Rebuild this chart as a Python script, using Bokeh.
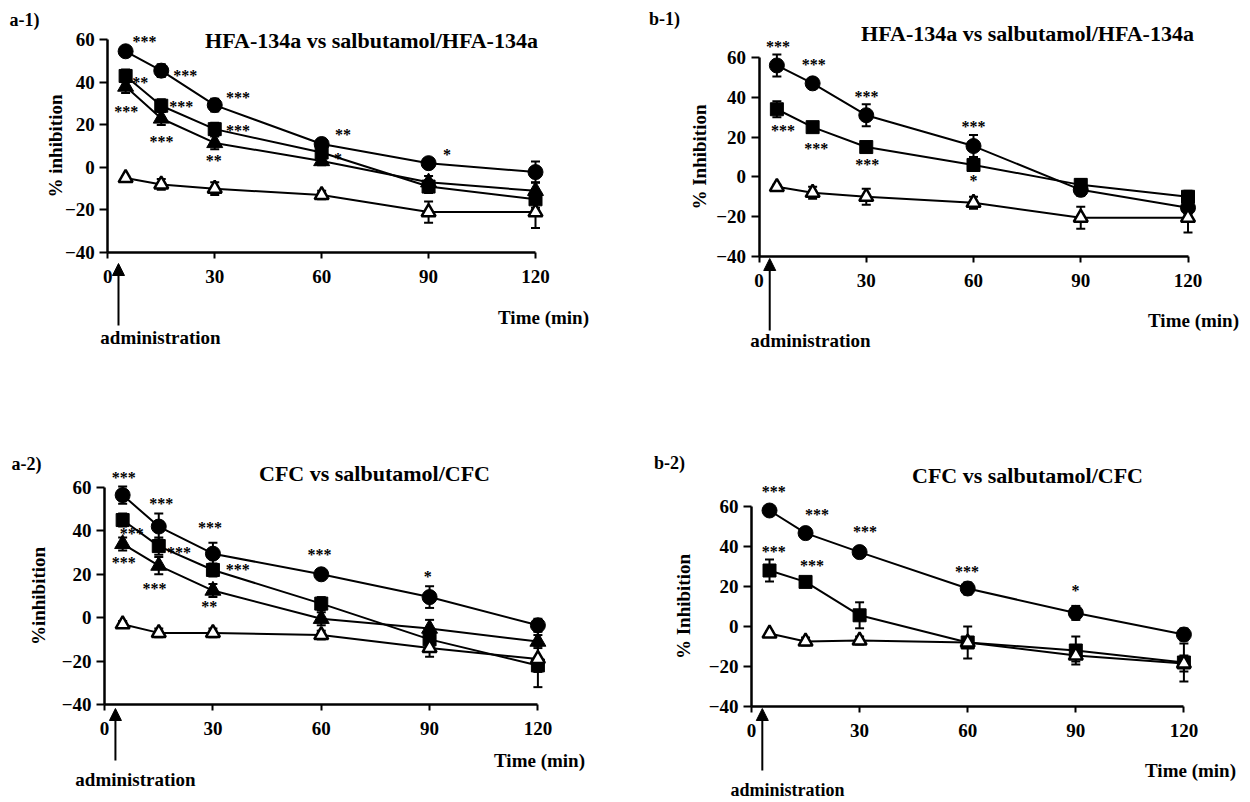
from bokeh.plotting import figure
from bokeh.layouts import column, row
from bokeh.models import (ColumnDataSource, Whisker, TeeHead, Label, Arrow,
                          NormalHead, FixedTicker, Range1d)
from bokeh.core.properties import value
from bokeh.embed import file_html
from bokeh.resources import INLINE

FONT = "Liberation Serif"

# ---------------- data ----------------
TIME = [5, 15, 30, 60, 90, 120]
X_TICKS = [0, 30, 60, 90, 120]
Y_TICKS = [-40, -20, 0, 20, 40, 60]
ADMIN_TIME = 3

# a-1) HFA-134a vs salbutamol/HFA-134a
A1_CIRCLE = [54.6, 45.5, 29.3, 11.0, 2.0, -2.2]
A1_CIRCLE_ERR = [2.0, 3.0, 3.0, 2.5, 2.0, 5.0]
A1_SQUARE = [43.0, 29.0, 18.0, 7.0, -9.0, -15.0]
A1_SQUARE_ERR = [3.0, 3.0, 3.0, 3.0, 3.0, 4.0]
A1_TRIANGLE = [38.0, 23.0, 11.5, 3.0, -7.0, -11.0]
A1_TRIANGLE_ERR = [3.0, 3.0, 3.0, 2.0, 3.0, 4.0]
A1_OPEN = [-5.0, -8.0, -10.0, -13.0, -21.0, -21.0]
A1_OPEN_ERR = [1.0, 2.5, 3.0, 2.0, 5.0, 7.5]
A1_STAR_X = [10.3, 21.7, 36.5, 66.0, 95.2, 8.0, 20.6, 36.5, 64.6, 5.2, 15.1, 29.7]
A1_STAR_Y = [61.2, 45.1, 34.7, 17.4, 8.0, 42.0, 30.4, 19.4, 6.0, 28.4, 14.2, 5.2]
A1_STAR_TXT = ["***", "***", "***", "**", "*", "***", "***", "***", "*", "***", "***", "**"]

# b-1) HFA-134a vs salbutamol/HFA-134a
B1_CIRCLE = [56.0, 47.0, 31.0, 15.5, -6.5, -15.5]
B1_CIRCLE_ERR = [5.5, 1.5, 5.5, 5.5, 3.0, 3.0]
B1_SQUARE = [34.0, 25.0, 15.0, 6.0, -4.0, -10.0]
B1_SQUARE_ERR = [4.0, 2.0, 2.0, 3.0, 3.0, 3.0]
B1_OPEN = [-5.0, -8.0, -10.0, -13.0, -20.5, -20.5]
B1_OPEN_ERR = [1.0, 3.0, 4.0, 3.0, 5.5, 7.5]
B1_STAR_X = [5.3, 15.3, 30.1, 60.0, 6.7, 16.0, 30.3, 60.0]
B1_STAR_Y = [67.4, 58.3, 42.5, 27.4, 25.4, 16.4, 8.1, 0.2]
B1_STAR_TXT = ["***", "***", "***", "***", "***", "***", "***", "*"]

# a-2) CFC vs salbutamol/CFC
A2_CIRCLE = [56.5, 42.0, 29.5, 20.0, 9.5, -3.5]
A2_CIRCLE_ERR = [4.0, 6.0, 5.0, 1.5, 5.0, 3.0]
A2_SQUARE = [45.0, 33.0, 22.0, 6.5, -10.0, -22.0]
A2_SQUARE_ERR = [3.0, 4.0, 3.0, 3.0, 5.0, 10.0]
A2_TRIANGLE = [34.0, 24.0, 12.5, -0.5, -5.0, -11.0]
A2_TRIANGLE_ERR = [3.0, 4.0, 3.0, 3.0, 4.0, 3.0]
A2_OPEN = [-3.0, -7.0, -7.0, -8.0, -14.0, -19.0]
A2_OPEN_ERR = [1.5, 2.0, 2.0, 2.0, 4.0, 6.0]
A2_STAR_X = [5.3, 15.7, 29.2, 59.5, 89.5, 7.5, 20.6, 36.9, 5.3, 13.8, 29.0]
A2_STAR_Y = [66.4, 54.6, 43.4, 30.8, 20.9, 40.8, 31.9, 23.9, 27.3, 15.5, 7.1]
A2_STAR_TXT = ["***", "***", "***", "***", "*", "***", "***", "***", "***", "***", "**"]

# b-2) CFC vs salbutamol/CFC
B2_CIRCLE = [58.0, 46.7, 37.2, 19.0, 6.8, -4.0]
B2_CIRCLE_ERR = [2.0, 1.5, 2.0, 3.0, 3.5, 3.0]
B2_SQUARE = [28.0, 22.3, 5.6, -8.0, -12.0, -18.0]
B2_SQUARE_ERR = [5.5, 2.0, 6.5, 8.0, 7.0, 9.5]
B2_OPEN = [-3.5, -7.5, -7.0, -8.0, -14.5, -18.5]
B2_OPEN_ERR = [1.0, 2.0, 2.0, 2.0, 3.0, 4.0]
B2_STAR_X = [6.2, 18.2, 31.5, 59.8, 89.9, 6.2, 16.8]
B2_STAR_Y = [69.6, 58.0, 49.7, 29.7, 19.8, 39.4, 32.7]
B2_STAR_TXT = ["***", "***", "***", "***", "*", "***", "***"]

TITLE_HFA = "HFA-134a vs salbutamol/HFA-134a"
TITLE_CFC = "CFC vs salbutamol/CFC"


# ---------------- panel builder ----------------
def make_panel(g, series, stars, texts):
    cx0, cy0, cw, ch = g["box"]
    x0px, x120px, y60px, ym40px = g["map"]
    sx = (x120px - x0px) / 120.0
    sy = (ym40px - y60px) / 100.0

    def dx(X):
        return (X - x0px) / sx

    def dy(Y):
        return -40 + (ym40px - Y) / sy

    p = figure(width=cw, height=ch, output_backend="svg", toolbar_location=None,
               x_range=Range1d(dx(cx0), dx(cx0 + cw)),
               y_range=Range1d(dy(cy0 + ch), dy(cy0)),
               min_border=0, min_border_left=0, min_border_right=0,
               min_border_top=0, min_border_bottom=0)
    p.title.visible = False
    p.outline_line_color = None
    p.grid.visible = False
    p.background_fill_color = "white"
    p.border_fill_color = "white"

    for ax in (p.xaxis[0], p.yaxis[0]):
        ax.axis_line_width = 2.5
        ax.axis_line_color = "black"
        ax.major_tick_line_width = 2
        ax.major_tick_line_color = "black"
        ax.major_tick_in = 0
        ax.minor_tick_in = 0
        ax.minor_tick_out = 0
        ax.major_label_text_font = FONT
        ax.major_label_text_font_style = "bold"
        ax.major_label_text_font_size = "19px"
        ax.major_label_text_color = "black"
    p.xaxis.ticker = FixedTicker(ticks=X_TICKS)
    p.yaxis.ticker = FixedTicker(ticks=Y_TICKS)
    p.xaxis.bounds = (0, 120)
    p.yaxis.bounds = (-40, 60)
    p.xaxis.fixed_location = -40
    p.yaxis.fixed_location = 0
    p.xaxis.major_tick_out = 6
    p.xaxis.major_label_standoff = 11
    p.yaxis.major_tick_out = 8
    p.yaxis.major_label_standoff = 5
    p.yaxis.axis_label = texts["ylabel"]
    p.yaxis.axis_label_text_font = FONT
    p.yaxis.axis_label_text_font_style = "bold"
    p.yaxis.axis_label_text_font_size = "19px"
    p.yaxis.axis_label_text_color = "black"
    p.yaxis.axis_label_standoff = g["ylab_standoff"]

    # significance stars
    p.text(x=stars[0], y=stars[1], text=stars[2], text_font=value(FONT),
           text_font_style="bold", text_font_size="16px", text_align="center",
           text_baseline="middle", y_offset=4, text_color="black")

    # lines, error bars, markers
    for vals, errs, marker, size, fill in series:
        p.line(TIME, vals, line_color="black", line_width=2)
    for vals, errs, marker, size, fill in series:
        src = ColumnDataSource(dict(x=TIME, upper=[v + e for v, e in zip(vals, errs)],
                                    lower=[v - e for v, e in zip(vals, errs)]))
        w = Whisker(source=src, base="x", upper="upper", lower="lower",
                    line_color="black", line_width=2, level="underlay",
                    upper_head=TeeHead(size=9, line_width=2, line_color="black"),
                    lower_head=TeeHead(size=9, line_width=2, line_color="black"))
        p.add_layout(w)
    for vals, errs, marker, size, fill in series:
        p.scatter(TIME, vals, marker=marker, size=size, fill_color=fill,
                  line_color="black", line_width=2.5 if fill == "white" else 1)

    def lab(X, Y, text, size):
        p.add_layout(Label(x=dx(X), y=dy(Y), text=text, text_font=FONT,
                           text_font_style="bold", text_font_size=size,
                           text_align="center", text_baseline="middle",
                           text_color="black"))

    lab(*texts["panel"], "18px")
    lab(*texts["title"], "22px")
    lab(*texts["time"], "Time (min)", "19px")
    lab(*texts["admin"], "administration", texts.get("admin_size", "19px"))
    tip, bot = texts["arrow"]
    p.add_layout(Arrow(x_start=ADMIN_TIME, y_start=dy(bot), x_end=ADMIN_TIME, y_end=dy(tip),
                       line_width=2, line_color="black",
                       end=NormalHead(size=12, fill_color="black", line_color="black")))
    return p


# box = canvas region (x, y, w, h); map = page px of x=0, x=120, y=60, y=-40
G_A1 = dict(box=(0, 0, 625, 401), map=(107.3, 535.0, 39.3, 252.0), ylab_standoff=-4)
G_B1 = dict(box=(625, 0, 625, 401), map=(758.5, 1187.5, 57.0, 256.0), ylab_standoff=4)
G_A2 = dict(box=(0, 401, 625, 401), map=(104.1, 537.4, 487.0, 704.0), ylab_standoff=10)
G_B2 = dict(box=(625, 401, 625, 401), map=(751.0, 1183.4, 506.0, 706.0), ylab_standoff=12)

p_a1 = make_panel(
    G_A1,
    [(A1_CIRCLE, A1_CIRCLE_ERR, "circle", 15, "black"),
     (A1_SQUARE, A1_SQUARE_ERR, "square", 13, "black"),
     (A1_TRIANGLE, A1_TRIANGLE_ERR, "triangle", 16, "black"),
     (A1_OPEN, A1_OPEN_ERR, "triangle", 14, "white")],
    (A1_STAR_X, A1_STAR_Y, A1_STAR_TXT),
    dict(ylabel="% inhibition", panel=(24, 19, "a-1)"), title=(371, 40, TITLE_HFA),
         time=(543, 317), admin=(160, 337), arrow=(263, 325)))

p_b1 = make_panel(
    G_B1,
    [(B1_CIRCLE, B1_CIRCLE_ERR, "circle", 15, "black"),
     (B1_SQUARE, B1_SQUARE_ERR, "square", 13, "black"),
     (B1_OPEN, B1_OPEN_ERR, "triangle", 14, "white")],
    (B1_STAR_X, B1_STAR_Y, B1_STAR_TXT),
    dict(ylabel="% Inhibition", panel=(664, 18, "b-1)"), title=(1027, 33, TITLE_HFA),
         time=(1193, 320), admin=(810, 340), arrow=(258, 330)))

p_a2 = make_panel(
    G_A2,
    [(A2_CIRCLE, A2_CIRCLE_ERR, "circle", 15, "black"),
     (A2_SQUARE, A2_SQUARE_ERR, "square", 13, "black"),
     (A2_TRIANGLE, A2_TRIANGLE_ERR, "triangle", 16, "black"),
     (A2_OPEN, A2_OPEN_ERR, "triangle", 14, "white")],
    (A2_STAR_X, A2_STAR_Y, A2_STAR_TXT),
    dict(ylabel="%inhibition", panel=(26, 463, "a-2)"), title=(374, 473, TITLE_CFC),
         time=(539, 760), admin=(135, 779), arrow=(708, 760)))

p_b2 = make_panel(
    G_B2,
    [(B2_CIRCLE, B2_CIRCLE_ERR, "circle", 15, "black"),
     (B2_SQUARE, B2_SQUARE_ERR, "square", 13, "black"),
     (B2_OPEN, B2_OPEN_ERR, "triangle", 14, "white")],
    (B2_STAR_X, B2_STAR_Y, B2_STAR_TXT),
    dict(ylabel="% Inhibition", panel=(669, 462, "b-2)"), title=(1027, 475, TITLE_CFC),
         time=(1190, 770), admin=(787, 789), admin_size="18px", arrow=(708, 770)))

layout = column(row(p_a1, p_b1), row(p_a2, p_b2))
open("out.html", "w").write(file_html(layout, INLINE))
